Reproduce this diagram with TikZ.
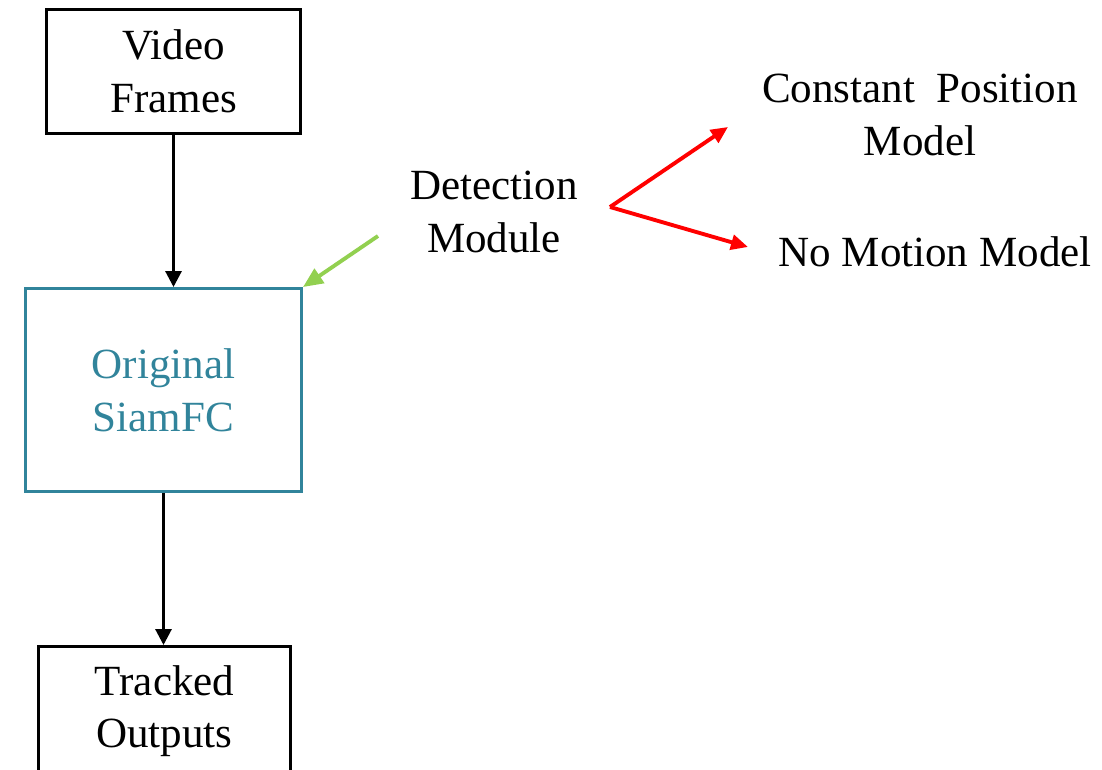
\documentclass[tikz,border=0pt]{standalone}
\usepackage{fontspec}
\setmainfont{Liberation Serif}
\usetikzlibrary{arrows.meta,positioning}
\definecolor{siamteal}{HTML}{31849B}
\definecolor{detgreen}{HTML}{92D050}
\definecolor{modelred}{HTML}{FF0000}
\tikzset{
  block/.style={draw,line width=1.7pt,rectangle,align=center,inner sep=0pt},
  flow/.style={line width=1.7pt,-{Triangle[length=0.32cm,width=0.32cm]}},
  hint/.style={line width=2.2pt,detgreen,-{Triangle[length=0.4cm,width=0.34cm]}},
  branch/.style={line width=2.2pt,modelred,-{Triangle[length=0.34cm,width=0.3cm]}},
  label/.style={align=center,inner sep=0pt}
}
\begin{document}
\begin{tikzpicture}[x=0.02cm,y=-0.02cm,font=\fontsize{24.5}{30}\selectfont]
			\useasboundingbox (0,0) rectangle (1102,770);
			\node[block,minimum width=5.08cm,minimum height=2.48cm](video) at (173.5,71.5) {Video\\Frames};
			\node[block,draw=siamteal,text=siamteal,minimum width=5.52cm,minimum height=4.06cm](siam) at (163.5,390) {Original\\SiamFC};
			\node[block,minimum width=5.04cm,minimum height=2.58cm](tracked) at (164.5,711) {Tracked\\Outputs};
			\node[label](detect) at (494,212) {Detection\\Module};
			\node[label](constpos) at (920,115) {Constant\ \ Position\\Model};
			\node[label](nomotion) at (935,252) {No Motion Model};
			\coordinate (gtail) at (378,236);
			\coordinate (fork) at (610,207);
			\coordinate (cptip) at (728,127);
			\coordinate (nmtip) at (748,247);
			\draw[flow] (video.south) -- (video.south |- siam.north);
			\draw[flow] (siam.south) -- (siam.south |- tracked.north);
			\draw[hint] (gtail) -- (siam.north east);
			\draw[branch] (fork) -- (cptip);
			\draw[branch] (fork) -- (nmtip);
\end{tikzpicture}
\end{document}
